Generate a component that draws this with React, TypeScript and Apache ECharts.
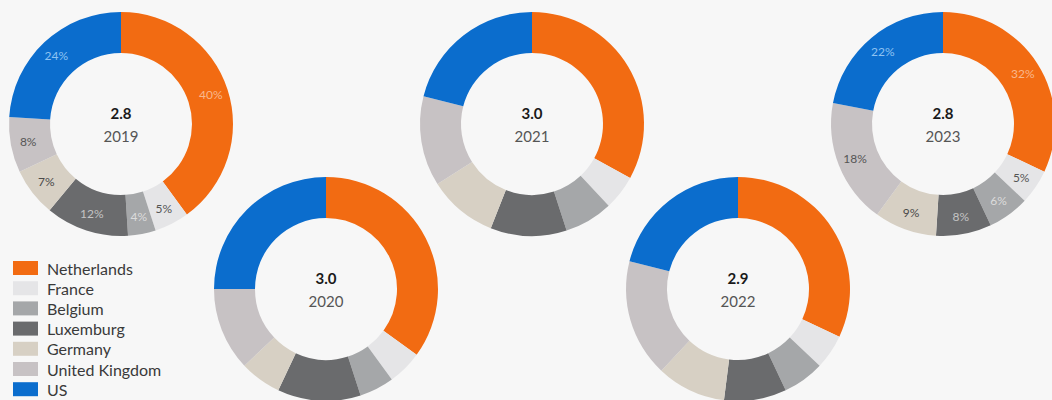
import React, { useEffect, useRef } from "react";
import * as echarts from "echarts";

const countries = ["Netherlands", "France", "Belgium", "Luxemburg", "Germany", "United Kingdom", "US"];
const sliceColors = ["#f26b12", "#e5e5e7", "#a5a7a9", "#6a6b6d", "#d7d0c4", "#c7c2c4", "#0b6dcd"];
const labelColors = ["#f9b88c", "#555555", "#dcdcdc", "#c4c4c4", "#4a4a4a", "#555555", "#8ec3f2"];

const years = ["2019", "2020", "2021", "2022", "2023"];
const totals = ["2.8", "3.0", "3.0", "2.9", "2.8"];
const share2019 = [40, 5, 4, 12, 7, 8, 24];
const share2020 = [35, 5, 5, 12, 6, 12, 25];
const share2021 = [33, 5, 7, 11, 10, 13, 21];
const share2022 = [32, 5, 6, 9, 10, 17, 21];
const share2023 = [32, 5, 6, 8, 9, 18, 22];
const shares = [share2019, share2020, share2021, share2022, share2023];
const showLabels = [true, false, false, false, true];

const centers: [number, number][] = [
  [121, 124],
  [326, 289],
  [532, 124],
  [738, 289],
  [943, 124],
];

const FONT = "Lato, 'Open Sans', sans-serif";

export default function App() {
  const ref = useRef<HTMLDivElement>(null);
  useEffect(() => {
    if (!ref.current) return;
    const chart = echarts.init(ref.current, undefined, { renderer: "svg" });

    const series = years.map((yr, i) => ({
      type: "pie",
      name: yr,
      center: centers[i],
      radius: [71, 112],
      startAngle: 90,
      clockwise: true,
      avoidLabelOverlap: false,
      silent: true,
      emphasis: { disabled: true },
      label: {
        show: showLabels[i],
        position: "inside",
        formatter: "{c}%",
        fontSize: 12,
        fontFamily: FONT,
      },
      labelLine: { show: false },
      data: countries.map((c, k) => ({
        name: c,
        value: shares[i][k],
        itemStyle: { color: sliceColors[k], borderWidth: 0 },
        label: { color: labelColors[k] },
      })),
    }));

    const extras: any[] = [];
    years.forEach((yr, i) => {
      extras.push({
        type: "text",
        x: centers[i][0],
        y: centers[i][1] - 11,
        silent: true,
        style: {
          text: totals[i],
          fill: "#1a1a1a",
          fontSize: 15,
          fontWeight: "bold",
          fontFamily: FONT,
          textAlign: "center",
          textVerticalAlign: "middle",
        },
      });
      extras.push({
        type: "text",
        x: centers[i][0],
        y: centers[i][1] + 12,
        silent: true,
        style: {
          text: yr,
          fill: "#555555",
          fontSize: 15,
          fontFamily: FONT,
          textAlign: "center",
          textVerticalAlign: "middle",
        },
      });
    });

    extras.push({
      type: "polyline",
      silent: true,
      shape: { points: [[1023, 80], [1031, 80], [1031, 188]] },
      style: { stroke: "#d2d2d2", lineWidth: 1, fill: null },
    });

    chart.setOption({
      animation: false,
      backgroundColor: "#f7f7f7",
      legend: {
        orient: "vertical",
        left: 8,
        top: 255,
        height: 200,
        icon: "rect",
        itemWidth: 25,
        itemHeight: 14,
        itemGap: 4.2,
        selectedMode: false,
        data: countries,
        textStyle: {
          color: "#3a3a3a",
          fontSize: 16,
          fontFamily: FONT,
          padding: [0, 0, 0, 4],
        },
      },
      graphic: extras,
      series,
    });
    return () => chart.dispose();
  }, []);
  return (
    <div
      ref={ref}
      style={{ position: "absolute", left: 0, top: 0, width: 1052, height: 400 }}
    />
  );
}
